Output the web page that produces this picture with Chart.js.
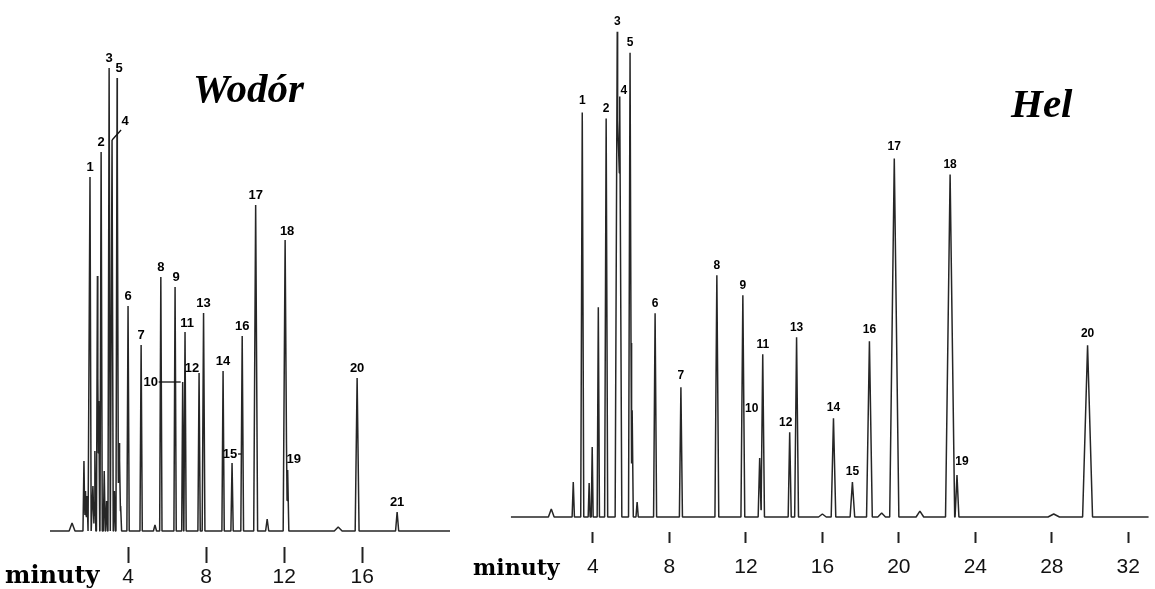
<!DOCTYPE html>
<html>
<head>
<meta charset="utf-8">
<title>Wodór / Hel</title>
<script src="https://cdn.jsdelivr.net/npm/chart.js@4.4.1/dist/chart.umd.min.js"></script>
<style>
	html, body { margin: 0; padding: 0; background: #fff; overflow: hidden; width: 1155px; height: 589px; }
	.box { position: absolute; top: 0; }
	#boxH2 { left: 50px; width: 400px; height: 592px; }
	#boxHe { left: 510px; width: 640px; height: 592.4px; }
	.title { position: absolute; font-family: "Liberation Serif", "Times New Roman", serif; font-weight: bold; font-style: italic; font-size: 41px; line-height: 41px; color: #000; white-space: nowrap; }
	.unit { position: absolute; font-family: "DejaVu Serif", serif; font-weight: bold; color: #000; white-space: nowrap; }
</style>
</head>
<body>
<div class="box" id="boxH2"><canvas id="chartH2"></canvas></div>
<div class="box" id="boxHe"><canvas id="chartHe"></canvas></div>
<div class="title" style="left:193px; top:68px;">Wodór</div>
<div class="title" style="left:1011px; top:83px;">Hel</div>
<div class="unit" style="left:5px; top:563px; font-size:24px; line-height:24px;">minuty</div>
<div class="unit" style="left:473px; top:556px; font-size:22px; line-height:22px;">minuty</div>
<script>
/* global Chart */

// Wodór (hydrogen carrier) - numbered peaks, time in minutes, height in detector units
const h2PeakLabels = ['1', '2', '3', '4', '5', '6', '7', '8', '9', '10', '11', '12', '13', '14', '15', '16', '17', '18', '19', '20', '21'];
const h2PeakTimes = [2.05, 2.62, 3.03, 3.18, 3.44, 4.0, 4.67, 5.68, 6.41, 6.80, 6.92, 7.64, 7.87, 8.87, 9.33, 9.85, 10.54, 12.05, 12.18, 15.74, 17.79];
const h2PeakHeights = [354, 379, 463, 391, 453, 225, 186, 254, 244, 149, 199, 158, 218, 160, 68, 195, 326, 291, 61, 153, 19];
const h2PeakWidths = [0.06, 0.06, 0.06, 0.06, 0.06, 0.06, 0.06, 0.06, 0.06, 0.05, 0.06, 0.06, 0.07, 0.06, 0.06, 0.07, 0.1, 0.1, 0.06, 0.1, 0.08];
// small unnumbered peaks
const h2MinorTimes = [1.13, 1.74, 1.82, 1.9, 2.2, 2.3, 2.43, 2.5, 2.78, 2.9, 3.3, 3.5, 3.56, 3.62, 5.38, 11.13, 14.77];
const h2MinorHeights = [8, 70, 40, 35, 45, 80, 255, 130, 60, 30, 40, 60, 88, 25, 6, 12, 4];
const h2MinorWidths = [0.15, 0.05, 0.05, 0.05, 0.06, 0.05, 0.05, 0.05, 0.05, 0.05, 0.05, 0.05, 0.05, 0.05, 0.08, 0.08, 0.2];
const h2Ticks = [4, 8, 12, 16];

// Hel (helium carrier)
const hePeakLabels = ['1', '2', '3', '4', '5', '6', '7', '8', '9', '10', '11', '12', '13', '14', '15', '16', '17', '18', '19', '20'];
const hePeakTimes = [3.44, 4.69, 5.27, 5.40, 5.94, 7.25, 8.60, 10.48, 11.84, 12.72, 12.88, 14.29, 14.65, 16.58, 17.57, 18.46, 19.76, 22.68, 23.04, 29.87];
const hePeakHeights = [405, 399, 486, 421, 465, 204, 130, 242, 222, 59, 163, 85, 180, 99, 35, 176, 359, 343, 42, 172];
const hePeakWidths = [0.08, 0.08, 0.11, 0.11, 0.08, 0.08, 0.08, 0.1, 0.1, 0.08, 0.09, 0.08, 0.1, 0.12, 0.12, 0.15, 0.24, 0.24, 0.1, 0.26];
const heMinorTimes = [1.82, 2.97, 3.8, 3.96, 4.28, 6.05, 6.31, 16.0, 19.1, 21.1, 28.1];
const heMinorHeights = [8, 35, 34, 70, 210, 107, 15, 3, 4, 6, 3];
const heMinorWidths = [0.15, 0.06, 0.05, 0.05, 0.06, 0.06, 0.06, 0.2, 0.2, 0.2, 0.3];
const heTicks = [4, 8, 12, 16, 20, 24, 28, 32];

function signalAt(x, times, heights, widths) {
	let s = 0;
	times.forEach((t, i) => {
		const d = Math.abs(x - t) / widths[i];
		if (d < 1) s += heights[i] * (1 - d);
	});
	return s;
}

function buildTrace(times, heights, widths, xmin, xmax) {
	const xs = [xmin, xmax];
	times.forEach((t, i) => xs.push(t - widths[i], t, t + widths[i]));
	xs.sort((a, b) => a - b);
	return xs.map((x) => ({ x, y: signalAt(x, times, heights, widths) }));
}

const peakLabelPlugin = {
	id: 'peakLabels',
	afterDatasetsDraw(chart, args, opts) {
		const { ctx } = chart;
		const xs = chart.scales.x;
		const ys = chart.scales.y;
		ctx.save();
		ctx.font = opts.font;
		ctx.fillStyle = '#000';
		ctx.strokeStyle = '#111';
		ctx.lineWidth = 1.3;
		ctx.textAlign = 'center';
		ctx.textBaseline = 'middle';
		opts.labels.forEach((lab, i) => {
			const t = opts.times[i];
			const px = xs.getPixelForValue(t);
			const py = ys.getPixelForValue(signalAt(t, opts.allTimes, opts.allHeights, opts.allWidths));
			const off = opts.offsets[lab] || [0, opts.dy];
			ctx.fillText(lab, px + off[0], py + off[1]);
			const lead = opts.leaders[lab];
			if (lead) {
				ctx.beginPath();
				ctx.moveTo(px + lead[0], py + lead[1]);
				ctx.lineTo(px + lead[2], py + lead[3]);
				ctx.stroke();
			}
		});
		ctx.restore();
	}
};

function makeChart(id, cfg) {
	const allTimes = cfg.times.concat(cfg.minorTimes);
	const allHeights = cfg.heights.concat(cfg.minorHeights);
	const allWidths = cfg.widths.concat(cfg.minorWidths);
	const ctx = document.getElementById(id).getContext('2d');

	return new Chart(ctx, {
		type: 'line',
		data: {
			datasets: [
				{
					data: buildTrace(allTimes, allHeights, allWidths, cfg.xmin, cfg.xmax),
					borderColor: '#262626',
					borderWidth: 1.5,
					borderJoinStyle: 'bevel',
					pointRadius: 0,
					tension: 0,
					fill: false
				}
			]
		},
		options: {
			responsive: true,
			maintainAspectRatio: false,
			animation: false,
			layout: { padding: 0 },
			plugins: {
				legend: { display: false },
				tooltip: { enabled: false },
				peakLabels: {
					labels: cfg.labels,
					times: cfg.times,
					allTimes,
					allHeights,
					allWidths,
					font: cfg.labelFont,
					dy: -10,
					offsets: cfg.offsets,
					leaders: cfg.leaders
				}
			},
			scales: {
				x: {
					type: 'linear',
					min: cfg.xmin,
					max: cfg.xmax,
					afterBuildTicks: (axis) => {
						axis.ticks = cfg.ticks.map((v) => ({ value: v }));
					},
					border: { display: false },
					grid: {
						drawOnChartArea: false,
						drawTicks: true,
						tickLength: cfg.tickLength,
						tickWidth: 2,
						tickColor: '#222'
					},
					ticks: {
						color: '#111',
						padding: cfg.tickPadding,
						maxRotation: 0,
						font: { family: '"Liberation Sans", Arial, sans-serif', size: 21, lineHeight: cfg.tickLineHeight }
					}
				},
				y: {
					display: false,
					min: cfg.ymin,
					max: cfg.ymax
				}
			}
		},
		plugins: [peakLabelPlugin]
	});
}

makeChart('chartH2', {
	labels: h2PeakLabels,
	times: h2PeakTimes,
	heights: h2PeakHeights,
	widths: h2PeakWidths,
	minorTimes: h2MinorTimes,
	minorHeights: h2MinorHeights,
	minorWidths: h2MinorWidths,
	ticks: h2Ticks,
	xmin: 0,
	xmax: 20.5,
	ymin: -16,
	ymax: 531,
	tickLength: 16,
	tickPadding: 4,
	tickLineHeight: 1,
	labelFont: 'bold 13px "Liberation Sans", Arial, sans-serif',
	offsets: {
		'4': [13, -19],
		'5': [2, -10],
		'9': [1, -10],
		'10': [-32, 0],
		'11': [2, -9],
		'12': [-7, -5],
		'15': [-2, -9],
		'18': [2, -9],
		'19': [6, -11]
	},
	leaders: {
		'4': [0, 0, 9, -10],
		'10': [-24, 0, -2, 0],
		'15': [6, -9, 9, -9]
	}
});

makeChart('chartHe', {
	labels: hePeakLabels,
	times: hePeakTimes,
	heights: hePeakHeights,
	widths: hePeakWidths,
	minorTimes: heMinorTimes,
	minorHeights: heMinorHeights,
	minorWidths: heMinorWidths,
	ticks: heTicks,
	xmin: -0.3,
	xmax: 33.07,
	ymin: -15,
	ymax: 517,
	tickLength: 11,
	tickPadding: 10,
	tickLineHeight: 1.4,
	labelFont: 'bold 12px "Liberation Sans", Arial, sans-serif',
	offsets: {
		'1': [0, -12],
		'4': [4, -6],
		'7': [0, -12],
		'10': [-8, -49],
		'12': [-4, -9],
		'16': [0, -12],
		'17': [0, -12],
		'19': [5, -13],
		'20': [0, -12]
	},
	leaders: {}
});
</script>
</body>
</html>
